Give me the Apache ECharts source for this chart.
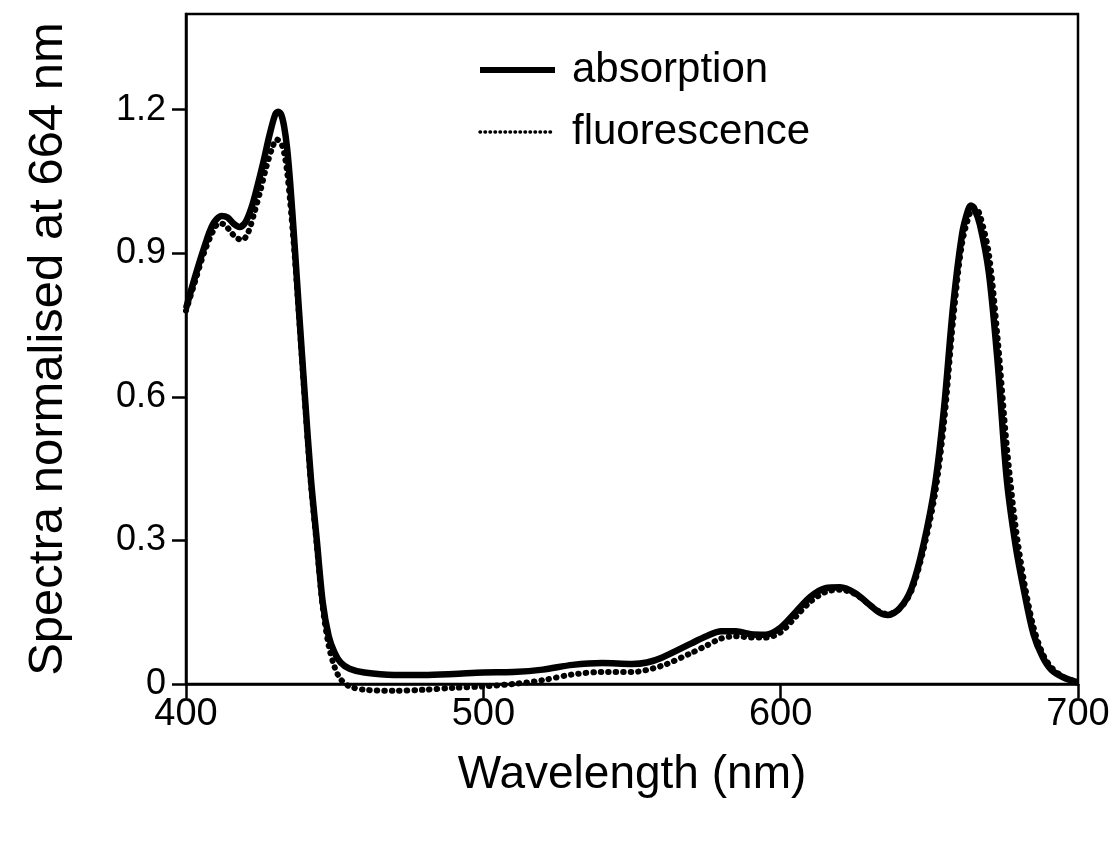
<!DOCTYPE html>
<html>
<head>
<meta charset="utf-8">
<script src="https://cdn.jsdelivr.net/npm/echarts@6/dist/echarts.min.js"></script>
<style>
html,body{margin:0;padding:0;background:#fff;}
#chart{width:1119px;height:847px;}
</style>
</head>
<body>
<div id="chart"></div>
<script>
// Absorption spectrum (solid)
const absWavelength = [400,403,406,409,412,414,416,418,420,422,424,426,428,430,431,432,433,434,435,436.5,438,440,442,444,446,448,450,452,455,460,470,480,490,500,510,520,530,540,550,555,560,570,575,580,585,590,595,600,605,610,615,620,625,630,633,636,640,644,648,652,655,658,661,663,664,665,667,670,673,676,679,682,685,688,691,695,700];
const absorption    = [0.785,0.85,0.91,0.96,0.978,0.975,0.962,0.955,0.965,0.995,1.04,1.09,1.145,1.19,1.196,1.19,1.165,1.12,1.05,0.92,0.78,0.6,0.43,0.3,0.17,0.1,0.065,0.045,0.032,0.024,0.019,0.019,0.021,0.024,0.025,0.03,0.04,0.044,0.042,0.045,0.055,0.085,0.1,0.11,0.11,0.104,0.103,0.118,0.15,0.182,0.2,0.202,0.19,0.165,0.15,0.144,0.158,0.2,0.29,0.42,0.58,0.79,0.94,0.99,1.0,0.995,0.96,0.86,0.67,0.43,0.29,0.19,0.105,0.058,0.03,0.014,0.003];

// Fluorescence excitation spectrum (dotted)
const fluWavelength = [400,403,406,409,411,413,415,417,419,421,423,425,427,429,430.5,432,433,434,435,436.5,438,440,442,444,446,448,450,452,455,460,470,480,490,500,510,520,530,540,550,560,570,575,580,585,590,595,600,605,610,615,620,625,630,633,636,640,644,648,652,655,658,661,664,665.5,667,670,673,676,679,682,685,688,691,695,700];
const fluorescence  = [0.78,0.84,0.9,0.945,0.962,0.96,0.945,0.932,0.928,0.945,0.985,1.03,1.08,1.12,1.138,1.13,1.11,1.07,1.01,0.9,0.77,0.59,0.42,0.29,0.16,0.08,0.035,0.01,-0.005,-0.012,-0.014,-0.012,-0.008,-0.005,0.0,0.008,0.02,0.025,0.025,0.038,0.065,0.08,0.095,0.1,0.097,0.097,0.108,0.14,0.172,0.192,0.197,0.188,0.165,0.152,0.146,0.157,0.195,0.28,0.4,0.55,0.76,0.92,0.99,0.995,0.98,0.9,0.72,0.5,0.33,0.21,0.12,0.065,0.035,0.015,0.003];

const xTicks = [400,500,600,700];
const yTicks = [0,0.3,0.6,0.9,1.2];

const zip = (xs, ys) => xs.map((x, i) => [x, ys[i]]);
const FONT = 'Liberation Sans, Arial, Helvetica, sans-serif';

const chart = echarts.init(document.getElementById('chart'));
chart.setOption({
  animation: false,
  backgroundColor: '#fff',
  grid: { left: 186, right: 41, top: 14, bottom: 163, show: true, borderColor: '#000', borderWidth: 2.5, containLabel: false },
  legend: {
    orient: 'vertical', left: 472, top: 42, itemWidth: 75, itemHeight: 20, itemGap: 16,
    textStyle: { fontFamily: FONT, fontSize: 42, color: '#000', lineHeight: 46, padding: [0,0,0,12] },
    data: [
      { name: 'absorption', itemStyle: { opacity: 0 }, lineStyle: { width: 6, color: '#000', type: 'solid' } },
      { name: 'fluorescence', itemStyle: { opacity: 0 }, lineStyle: { width: 3.5, color: '#000', type: [0.5, 4.5], cap: 'round' } }
    ]
  },
  xAxis: {
    type: 'value', min: 400, max: 700, interval: 100,
    name: 'Wavelength (nm)', nameLocation: 'middle', nameGap: 68,
    nameTextStyle: { fontFamily: FONT, fontSize: 46, color: '#000' },
    axisLine: { lineStyle: { color: '#000', width: 2.5 } },
    axisTick: { inside: false, length: 14, lineStyle: { color: '#000', width: 2.5 } },
    axisLabel: { fontFamily: FONT, fontSize: 38, color: '#000', margin: 12,
      formatter: v => xTicks.includes(v) ? String(v) : '' },
    splitLine: { show: false }
  },
  yAxis: {
    type: 'value', min: 0, max: 1.4, interval: 0.3,
    name: 'Spectra normalised at 664 nm', nameLocation: 'middle', nameGap: 113,
    nameTextStyle: { fontFamily: FONT, fontSize: 49, color: '#000' },
    axisLine: { lineStyle: { color: '#000', width: 2.5 } },
    axisTick: { inside: false, length: 14, lineStyle: { color: '#000', width: 2.5 } },
    axisLabel: { fontFamily: FONT, fontSize: 36, color: '#000', margin: 20, showMaxLabel: false,
      formatter: v => { const t = yTicks.find(y => Math.abs(y - v) < 1e-6); return t === undefined ? '' : (t === 0 ? '0' : t.toFixed(1)); } },
    splitLine: { show: false }
  },
  series: [
    { name: 'absorption', type: 'line', data: zip(absWavelength, absorption), smooth: 0.3,
      symbol: 'none', clip: false, z: 3,
      lineStyle: { color: '#000', width: 6.5 }, itemStyle: { color: '#000' } },
    { name: 'fluorescence', type: 'line', data: zip(fluWavelength, fluorescence), smooth: 0.3,
      symbol: 'none', clip: false, z: 2,
      lineStyle: { color: '#000', width: 6, type: [0.5, 7], cap: 'round' }, itemStyle: { color: '#000' } }
  ]
});
</script>
</body>
</html>
